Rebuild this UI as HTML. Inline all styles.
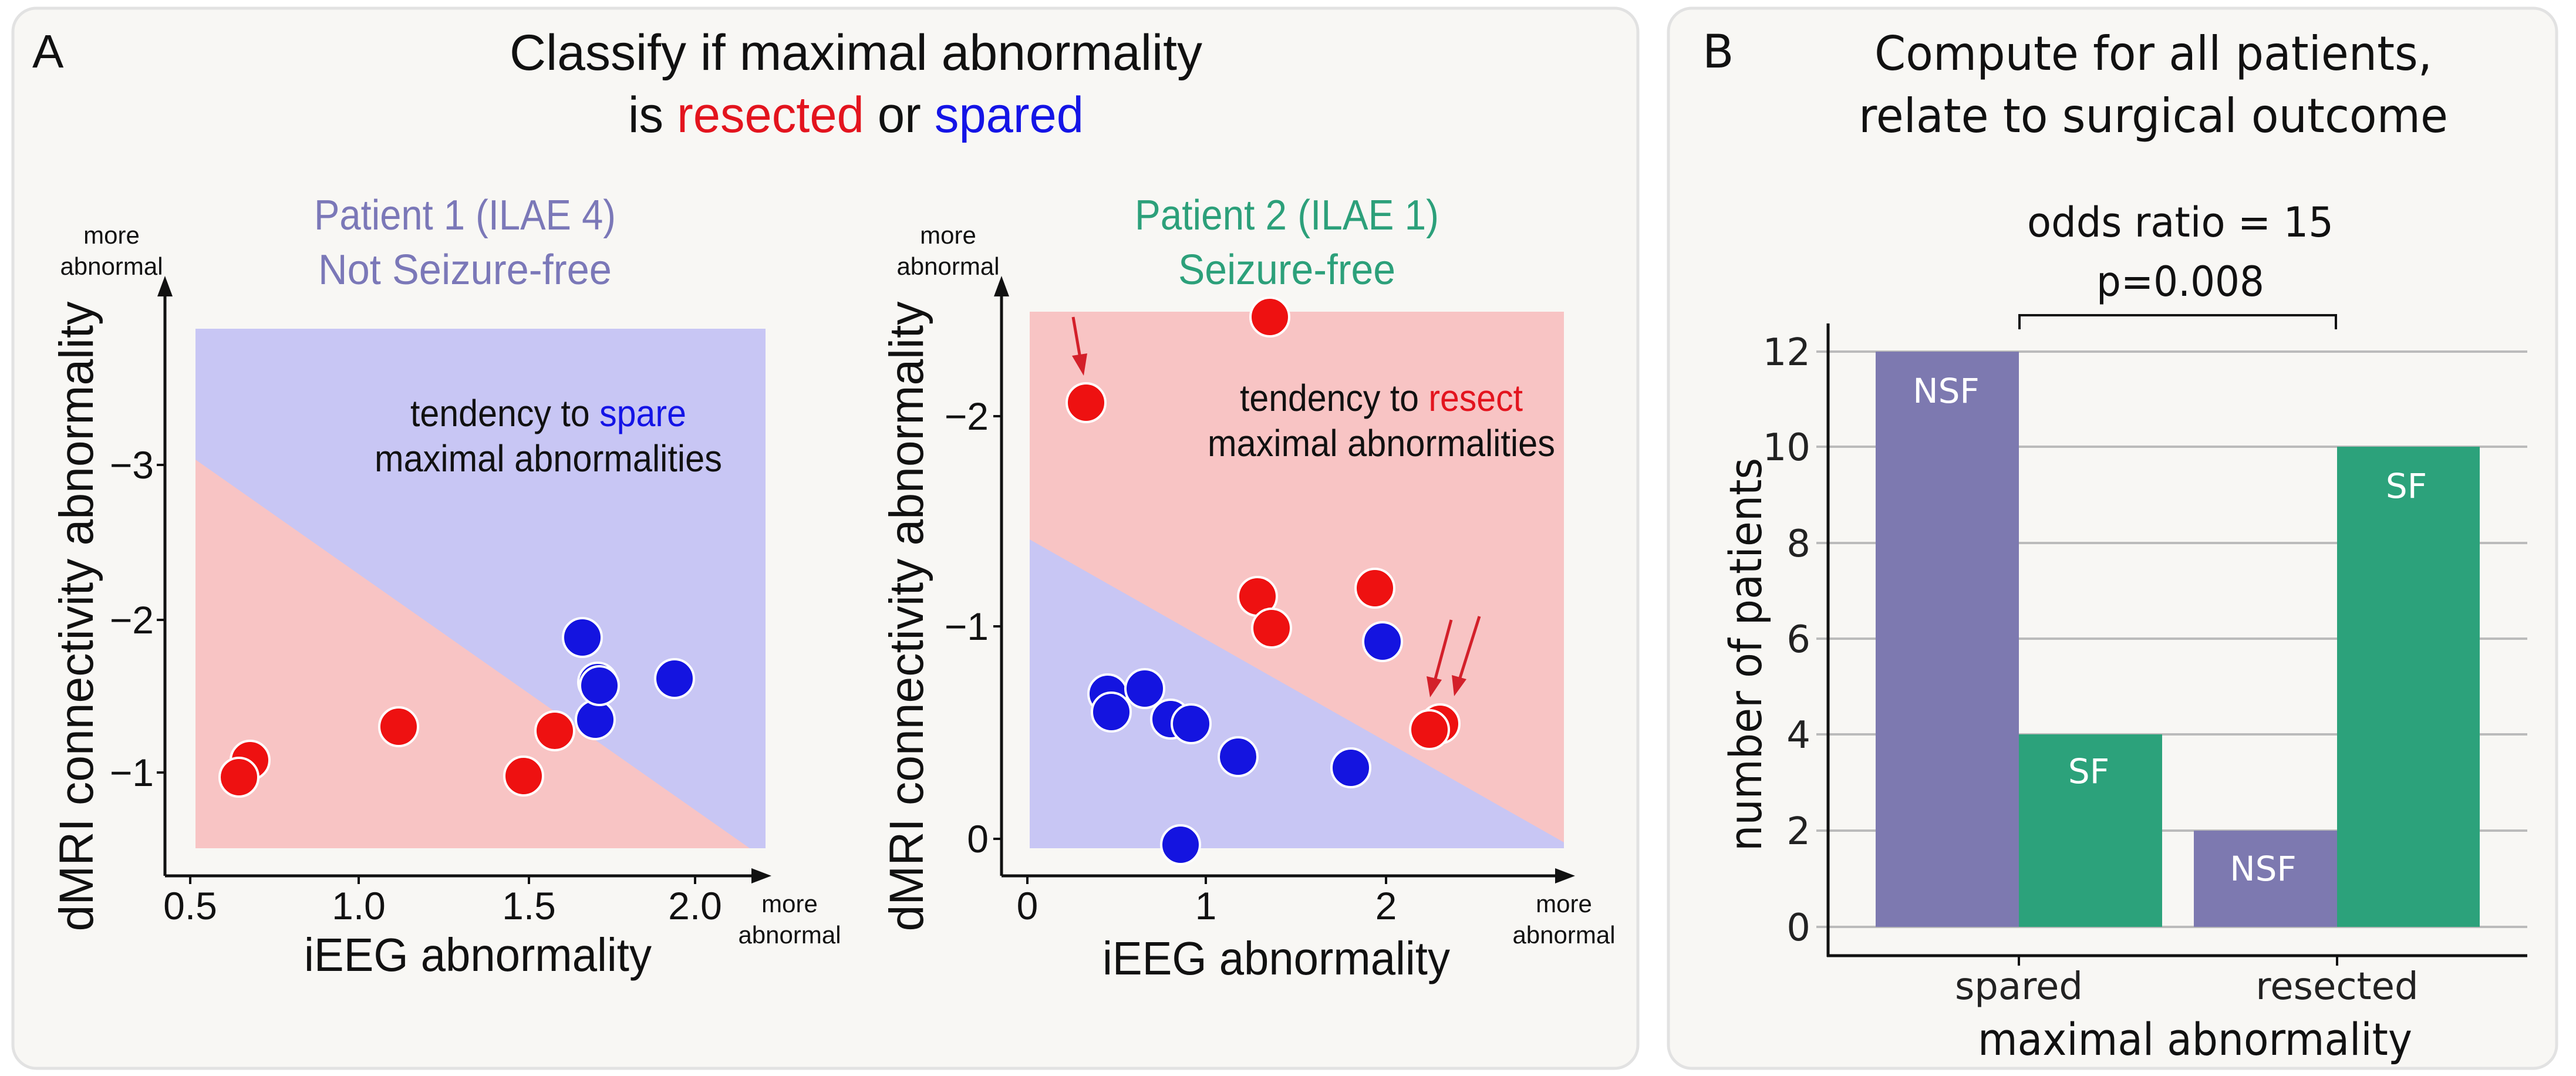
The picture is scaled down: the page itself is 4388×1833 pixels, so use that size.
<!DOCTYPE html>
<html><head><meta charset="utf-8"><style>
html,body{margin:0;padding:0;background:#fff}
svg{display:block}
text{font-family:"Liberation Sans",sans-serif}
.b text{font-family:"DejaVu Sans",sans-serif}
</style></head><body>
<svg width="4388" height="1833" viewBox="0 0 4388 1833" xmlns="http://www.w3.org/2000/svg">
<defs>
<marker id="ar" markerWidth="10" markerHeight="10" refX="8" refY="5" orient="auto" markerUnits="userSpaceOnUse" viewBox="0 0 10 10"><path d="M0,0 L10,5 L0,10 Z" fill="#111"/></marker>
</defs>
<rect x="22" y="14" width="2768" height="1806" rx="40" fill="#f8f7f4" stroke="#e2e2e2" stroke-width="5"/>
<rect x="2842" y="14" width="1513" height="1806" rx="40" fill="#f8f7f4" stroke="#e2e2e2" stroke-width="5"/>

<!-- Panel A titles -->
<text x="55" y="115" font-size="80" fill="#111">A</text>
<text x="1458" y="119" font-size="86" text-anchor="middle" textLength="1180" lengthAdjust="spacingAndGlyphs" fill="#111">Classify if maximal abnormality</text>
<text x="1458" y="225" font-size="86" text-anchor="middle" textLength="776" lengthAdjust="spacingAndGlyphs" fill="#111">is <tspan fill="#e3141e">resected</tspan> or <tspan fill="#1414e6">spared</tspan></text>

<!-- Plot 1 -->
<rect x="333" y="560" width="971" height="885" fill="#c8c6f4"/>
<polygon points="333,783 1277,1445 333,1445" fill="#f8c4c4"/>
<line x1="281" y1="1492" x2="281" y2="495" stroke="#111" stroke-width="5" marker-end="url(#ar)"/>
<path d="M281,470 L268,505 L294,505 Z" fill="#111"/>
<line x1="281" y1="1492" x2="1290" y2="1492" stroke="#111" stroke-width="5"/>
<path d="M1314,1492 L1280,1479 L1280,1505 Z" fill="#111"/>
<g stroke="#111" stroke-width="4">
<line x1="324" y1="1492" x2="324" y2="1506"/><line x1="611" y1="1492" x2="611" y2="1506"/><line x1="901" y1="1492" x2="901" y2="1506"/><line x1="1184" y1="1492" x2="1184" y2="1506"/>
<line x1="267" y1="792" x2="281" y2="792"/><line x1="267" y1="1056" x2="281" y2="1056"/><line x1="267" y1="1316" x2="281" y2="1316"/>
</g>
<g font-size="66" fill="#111" text-anchor="middle">
<text x="324" y="1566">0.5</text><text x="611" y="1566">1.0</text><text x="901" y="1566">1.5</text><text x="1184" y="1566">2.0</text>
</g>
<g font-size="66" fill="#111" text-anchor="end">
<text x="262" y="815">−3</text><text x="262" y="1079">−2</text><text x="262" y="1339">−1</text>
</g>
<text transform="translate(158,1050) rotate(-90)" font-size="82" text-anchor="middle" textLength="1073" lengthAdjust="spacingAndGlyphs" fill="#111">dMRI connectivity abnormality</text>
<text x="814" y="1654" font-size="80" text-anchor="middle" textLength="592" lengthAdjust="spacingAndGlyphs" fill="#111">iEEG abnormality</text>
<g font-size="42" fill="#111" text-anchor="middle">
<text x="190" y="415">more</text><text x="190" y="468">abnormal</text>
<text x="1345" y="1554">more</text><text x="1345" y="1607">abnormal</text>
</g>
<text x="792" y="391" font-size="72" text-anchor="middle" textLength="514" lengthAdjust="spacingAndGlyphs" fill="#7b78b8">Patient 1 (ILAE 4)</text>
<text x="792" y="484" font-size="72" text-anchor="middle" textLength="500" lengthAdjust="spacingAndGlyphs" fill="#7b78b8">Not Seizure-free</text>
<text x="934" y="726" font-size="64" text-anchor="middle" textLength="470" lengthAdjust="spacingAndGlyphs" fill="#111">tendency to <tspan fill="#1414e6">spare</tspan></text>
<text x="934" y="803" font-size="64" text-anchor="middle" textLength="592" lengthAdjust="spacingAndGlyphs" fill="#111">maximal abnormalities</text>
<g stroke="#fff" stroke-width="4">
<g fill="#ee1111">
<circle cx="426" cy="1295" r="33"/><circle cx="407" cy="1324" r="33"/><circle cx="679" cy="1238" r="33"/><circle cx="892" cy="1322" r="33"/><circle cx="945" cy="1245" r="33"/>
</g>
<g fill="#1414e0">
<circle cx="992" cy="1086" r="33"/><circle cx="1014" cy="1226" r="33"/><circle cx="1018" cy="1162" r="33"/><circle cx="1021" cy="1168" r="33"/><circle cx="1149" cy="1156" r="33"/>
</g>
</g>

<!-- Plot 2 -->
<rect x="1754" y="531" width="910" height="914" fill="#f8c4c4"/>
<polygon points="1754,919 2664,1435 2664,1445 1754,1445" fill="#c8c6f4"/>
<line x1="1706" y1="1492" x2="1706" y2="500" stroke="#111" stroke-width="5"/>
<path d="M1706,470 L1693,505 L1719,505 Z" fill="#111"/>
<line x1="1706" y1="1492" x2="2660" y2="1492" stroke="#111" stroke-width="5"/>
<path d="M2683,1492 L2649,1479 L2649,1505 Z" fill="#111"/>
<g stroke="#111" stroke-width="4">
<line x1="1750" y1="1492" x2="1750" y2="1506"/><line x1="2054" y1="1492" x2="2054" y2="1506"/><line x1="2361" y1="1492" x2="2361" y2="1506"/>
<line x1="1692" y1="709" x2="1706" y2="709"/><line x1="1692" y1="1067" x2="1706" y2="1067"/><line x1="1692" y1="1429" x2="1706" y2="1429"/>
</g>
<g font-size="66" fill="#111" text-anchor="middle">
<text x="1750" y="1566">0</text><text x="2054" y="1566">1</text><text x="2361" y="1566">2</text>
</g>
<g font-size="66" fill="#111" text-anchor="end">
<text x="1684" y="732">−2</text><text x="1684" y="1090">−1</text><text x="1684" y="1452">0</text>
</g>
<text transform="translate(1572,1050) rotate(-90)" font-size="82" text-anchor="middle" textLength="1073" lengthAdjust="spacingAndGlyphs" fill="#111">dMRI connectivity abnormality</text>
<text x="2174" y="1660" font-size="80" text-anchor="middle" textLength="592" lengthAdjust="spacingAndGlyphs" fill="#111">iEEG abnormality</text>
<g font-size="42" fill="#111" text-anchor="middle">
<text x="1615" y="415">more</text><text x="1615" y="468">abnormal</text>
<text x="2664" y="1554">more</text><text x="2664" y="1607">abnormal</text>
</g>
<text x="2192" y="391" font-size="72" text-anchor="middle" textLength="518" lengthAdjust="spacingAndGlyphs" fill="#2ca07a">Patient 2 (ILAE 1)</text>
<text x="2192" y="484" font-size="72" text-anchor="middle" textLength="370" lengthAdjust="spacingAndGlyphs" fill="#2ca07a">Seizure-free</text>
<text x="2353" y="700" font-size="64" text-anchor="middle" textLength="482" lengthAdjust="spacingAndGlyphs" fill="#111">tendency to <tspan fill="#e3141e">resect</tspan></text>
<text x="2353" y="777" font-size="64" text-anchor="middle" textLength="592" lengthAdjust="spacingAndGlyphs" fill="#111">maximal abnormalities</text>
<g stroke="#fff" stroke-width="4">
<g fill="#ee1111">
<circle cx="2163" cy="540" r="33"/><circle cx="1850" cy="686" r="33"/><circle cx="2142" cy="1016" r="33"/><circle cx="2166" cy="1070" r="33"/><circle cx="2342" cy="1002" r="33"/><circle cx="2453" cy="1233" r="33"/><circle cx="2435" cy="1243" r="33"/>
</g>
<g fill="#1414e0">
<circle cx="1887" cy="1182" r="33"/><circle cx="1893" cy="1213" r="33"/><circle cx="1950" cy="1173" r="33"/><circle cx="1994" cy="1225" r="33"/><circle cx="2029" cy="1233" r="33"/><circle cx="2109" cy="1289" r="33"/><circle cx="2301" cy="1308" r="33"/><circle cx="2355" cy="1093" r="33"/><circle cx="2011" cy="1439" r="33"/>
</g>
</g>
<g stroke="#d3202a" stroke-width="5" fill="#d3202a">
<line x1="1828" y1="540" x2="1840" y2="610"/><path d="M1846,640 L1826,606 L1852,602 Z" stroke="none"/>
<line x1="2472" y1="1056" x2="2444" y2="1160"/><path d="M2436,1188 L2430,1152 L2456,1158 Z" stroke="none"/>
<line x1="2520" y1="1050" x2="2486" y2="1158"/><path d="M2477,1186 L2473,1150 L2498,1157 Z" stroke="none"/>
</g>

<!-- Panel B -->
<g class="b">
<text x="2900" y="115" font-size="78" fill="#111">B</text>
<text x="3668" y="119" font-size="80" text-anchor="middle" textLength="950" lengthAdjust="spacingAndGlyphs" fill="#111">Compute for all patients,</text>
<text x="3668" y="225" font-size="80" text-anchor="middle" textLength="1004" lengthAdjust="spacingAndGlyphs" fill="#111">relate to surgical outcome</text>
<text x="3714" y="403" font-size="70" text-anchor="middle" textLength="522" lengthAdjust="spacingAndGlyphs" fill="#111">odds ratio = 15</text>
<text x="3714" y="504" font-size="70" text-anchor="middle" textLength="286" lengthAdjust="spacingAndGlyphs" fill="#111">p=0.008</text>
<path d="M3440,561 L3440,537 L3979,537 L3979,561" fill="none" stroke="#111" stroke-width="4"/>
<g stroke="#bbb" stroke-width="4">
<line x1="3094" y1="599" x2="4305" y2="599"/><line x1="3094" y1="761" x2="4305" y2="761"/><line x1="3094" y1="925" x2="4305" y2="925"/><line x1="3094" y1="1088" x2="4305" y2="1088"/><line x1="3094" y1="1251" x2="4305" y2="1251"/><line x1="3094" y1="1415" x2="4305" y2="1415"/><line x1="3094" y1="1579" x2="4305" y2="1579"/>
</g>
<rect x="3195" y="599" width="244" height="980" fill="#7d79b0"/>
<rect x="3439" y="1251" width="244" height="328" fill="#2ca27b"/>
<rect x="3737" y="1415" width="244" height="164" fill="#7d79b0"/>
<rect x="3981" y="761" width="243" height="818" fill="#2ca27b"/>
<g font-size="58" fill="#fff" text-anchor="middle">
<text x="3315" y="686">NSF</text><text x="3558" y="1334">SF</text><text x="3855" y="1500">NSF</text><text x="4099" y="848">SF</text>
</g>
<line x1="3114" y1="551" x2="3114" y2="1630" stroke="#111" stroke-width="5"/>
<line x1="3112" y1="1628" x2="4305" y2="1628" stroke="#111" stroke-width="5"/>
<g stroke="#111" stroke-width="4"><line x1="3439" y1="1628" x2="3439" y2="1645"/><line x1="3981" y1="1628" x2="3981" y2="1645"/></g>
<g font-size="64" fill="#222" text-anchor="end">
<text x="3084" y="622">12</text><text x="3084" y="784">10</text><text x="3084" y="948">8</text><text x="3084" y="1111">6</text><text x="3084" y="1274">4</text><text x="3084" y="1438">2</text><text x="3084" y="1602">0</text>
</g>
<g font-size="64" fill="#222" text-anchor="middle">
<text x="3439" y="1702">spared</text><text x="3981" y="1702">resected</text>
</g>
<text x="3739" y="1797" font-size="76" text-anchor="middle" textLength="740" lengthAdjust="spacingAndGlyphs" fill="#111">maximal abnormality</text>
<text transform="translate(3000,1115) rotate(-90)" font-size="76" text-anchor="middle" textLength="670" lengthAdjust="spacingAndGlyphs" fill="#111">number of patients</text>
</g>
</svg>
</body></html>
